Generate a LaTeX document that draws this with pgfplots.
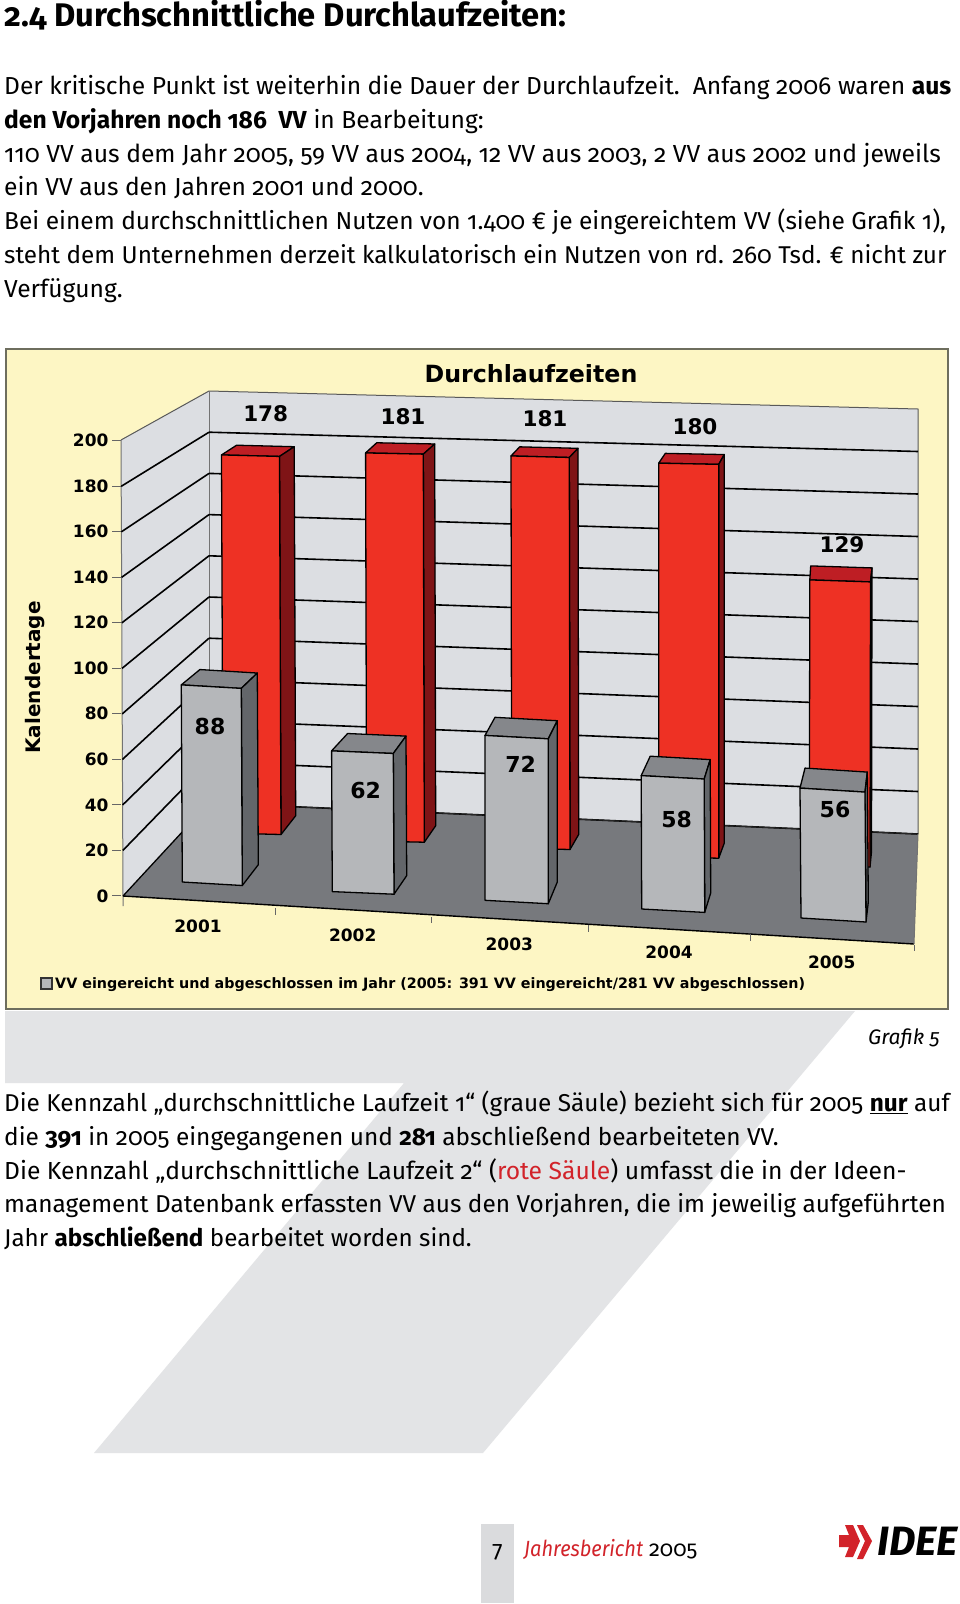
\documentclass[border=0pt]{standalone}
\usepackage{pgfplots}
\usepackage{pgfplotstable}
\usepackage{fontspec}
\pgfplotsset{compat=1.18}
\setmainfont[Numbers=OldStyle]{Fira Sans}
\newfontfamily\chartfont{DejaVu Sans}
\definecolor{paper}{HTML}{FDF6C4}
\definecolor{frameedge}{HTML}{6E6E5E}
\definecolor{wall}{HTML}{DCDEE2}
\definecolor{floorc}{HTML}{77797D}
\definecolor{redF}{HTML}{EE3124}
\definecolor{redT}{HTML}{BE1E24}
\definecolor{redS}{HTML}{7F1416}
\definecolor{grayF}{HTML}{B5B7BA}
\definecolor{grayT}{HTML}{85878B}
\definecolor{grayS}{HTML}{63666A}
\definecolor{deco}{HTML}{E3E4E6}
\definecolor{ftbox}{HTML}{DADBDD}
\definecolor{idee}{HTML}{D2232A}
% value, then where the bar stands on the page (front base, back base, height per day)
\pgfplotstableread{
v   blx   bly   brx   bry   k     rbx   rby   kb    bkw  lean lx   ly
178 223   833   281   834.5 2.124 295.7 815.7 2.073 57.6 1.5  265.7 413.7
181 366.6 841   424.3 842.2 2.144 435.7 825.7 2.109 58   1    403   417
181 511.7 848   570   849.5 2.166 578.7 834.4 2.133 58.3 0.7  545   419
180 658.7 857   718.7 858.2 2.188 724.3 843   2.158 59   0    695   426.7
129 809.3 865   870   867   2.21  871.5 851.7 2.2   61.3 -0.5 842   544.7
}\redbars
\pgfplotstableread{
v   blx   bly   brx   bry   k     rbx   rby   kb    bkw  lean lx    ly
88  182.3 882   242.3 885.5 2.24  258.3 864.7 2.178 57.4 1    210   726
62  332.3 891.6 394   894.2 2.27  406.7 875.6 2.25  58.4 0.7  365.7 790
72  485   900.3 548.3 903.7 2.29  557.3 882   2.24  62.3 0    520.7 764
58  641.7 909   704.7 912.4 2.30  710.7 893   2.30  60   0.5  676.7 819
56  801   918   866   922   2.32  868.3 902   2.32  62.3 1    835   809.6
}\graybars
\newcommand\getb[3]{\pgfplotstablegetelem{#2}{#3}\of#1\edef\tmpv{\pgfplotsretval}}
\newcommand\drawbar[4]{% table, row, face prefix
  \getb{#1}{#2}{v}\let\bv\tmpv
  \getb{#1}{#2}{blx}\let\blx\tmpv \getb{#1}{#2}{bly}\let\bly\tmpv
  \getb{#1}{#2}{brx}\let\brx\tmpv \getb{#1}{#2}{bry}\let\bry\tmpv
  \getb{#1}{#2}{k}\let\bk\tmpv
  \getb{#1}{#2}{rbx}\let\rbx\tmpv \getb{#1}{#2}{rby}\let\rby\tmpv
  \getb{#1}{#2}{kb}\let\kb\tmpv \getb{#1}{#2}{bkw}\let\bkw\tmpv
  \getb{#1}{#2}{lean}\let\lean\tmpv
  \pgfmathsetmacro\tlx{\blx-\lean}\pgfmathsetmacro\trx{\brx-\lean}
  \pgfmathsetmacro\tly{\bly-\bk*\bv}\pgfmathsetmacro\try{\bry-\bk*\bv}
  \pgfmathsetmacro\brtx{\rbx-\lean}\pgfmathsetmacro\brty{\rby-\kb*\bv}
  \pgfmathsetmacro\bltx{\brtx-\bkw}\pgfmathsetmacro\blty{\brty+\bly-\bry}
  \addplot[fill=#3T,draw=black,line width=1.3pt,line join=round] coordinates {(\tlx,\tly)(\trx,\try)(\brtx,\brty)(\bltx,\blty)} --cycle;
  \addplot[fill=#3S,draw=black,line width=1.3pt,line join=round] coordinates {(\trx,\try)(\brtx,\brty)(\rbx,\rby)(\brx,\bry)} --cycle;
  \addplot[fill=#3F,draw=black,line width=1.3pt,line join=round] coordinates {(\tlx,\tly)(\trx,\try)(\brx,\bry)(\blx,\bly)} --cycle;
}
\newcommand\pt[5][]{\node[anchor=base west,inner sep=0pt,#1] at (axis cs:#2,#3) {\fontsize{#4}{#4}\selectfont #5};}
\begin{document}
\begin{tikzpicture}[x=1pt,y=1pt]
\path[use as bounding box,fill=white] (0,0) rectangle (960,1604);
\begin{axis}[at={(0pt,0pt)},anchor=south west,scale only axis,width=960pt,height=1604pt,
  xmin=0,xmax=960,ymin=0,ymax=1604,y dir=reverse,hide axis,clip=false,axis on top=false,
  every axis plot/.append style={forget plot}]
% decoration band
\addplot[fill=deco,draw=none] coordinates {(5,1011)(855,1011)(483,1453)(94,1453)(404,1083)(5,1083)} --cycle;
\addplot[fill=ftbox,draw=none] coordinates {(481,1524)(514,1524)(514,1603)(481,1603)} --cycle;
% frame
\addplot[fill=paper,draw=frameedge,line width=1.6pt] coordinates {(6,349)(948,349)(948,1009)(6,1009)} --cycle;
% walls and floor
\addplot[fill=wall,draw=none] coordinates {(209,391)(918,409)(918,834)(209,803)} --cycle;
\addplot[fill=wall,draw=none] coordinates {(121,440)(209,391)(209,803)(123,896)} --cycle;
\addplot[fill=floorc,draw=none] coordinates {(123,896)(209,803)(918,834)(914,944)} --cycle;
\addplot[draw=black!65,line width=1pt] coordinates {(121,440)(209,391)(918,409)(918,834)};
\addplot[draw=black!55,line width=1pt] coordinates {(209,391)(209,803)};
\addplot[draw=black!55,line width=1pt] coordinates {(121,440)(123,896)(123,906)};
% grid lines
\pgfplotsinvokeforeach{0,20,...,200}{
  \pgfmathsetmacro\ya{803-2.06*#1}\pgfmathsetmacro\yb{834-2.125*#1}
  \pgfmathsetmacro\yc{896-2.276*#1}\pgfmathsetmacro\xc{123-0.01*#1}
  \ifnum#1=200 \else \addplot[black,line width=1.6pt] coordinates {(209,\ya)(918,\yb)}; \fi
  \ifnum#1=0 \else \ifnum#1=200 \else \addplot[black,line width=1.6pt] coordinates {(\xc,\yc)(209,\ya)}; \fi\fi
}
\addplot[black!85,line width=1pt] coordinates {(209,803)(918,834)};
\addplot[black,line width=1.3pt] coordinates {(123,896)(209,803)};
\addplot[black,line width=1.4pt] coordinates {(123,896)(914,944)};
\addplot[draw=black!55,line width=1pt] coordinates {(914,944)(918,834)};
\addplot[draw=black!60,line width=1pt] coordinates {(275,908)(275,915)};
\addplot[draw=black!60,line width=1pt] coordinates {(431,917)(431,923)};
\addplot[draw=black!60,line width=1pt] coordinates {(588,925)(588,932)};
\addplot[draw=black!60,line width=1pt] coordinates {(750,934)(750,941)};
\addplot[draw=black!60,line width=1pt] coordinates {(914,945)(914,951)};
% bars
\pgfplotsinvokeforeach{0,...,4}{\drawbar{\redbars}{#1}{red}{}}
\pgfplotsinvokeforeach{0,...,4}{\drawbar{\graybars}{#1}{gray}{}}
% value labels
\addplot[draw=none,nodes near coords,point meta=explicit symbolic,
  every node near coord/.style={anchor=center,inner sep=0pt,font=\chartfont\bfseries\fontsize{21.5}{21.5}\selectfont,text=black}]
  table[x=lx,y=ly,meta=v]{\redbars};
\addplot[draw=none,nodes near coords,point meta=explicit symbolic,
  every node near coord/.style={anchor=center,inner sep=0pt,font=\chartfont\bfseries\fontsize{22}{22}\selectfont,text=black}]
  table[x=lx,y=ly,meta=v]{\graybars};
% category labels
\addplot[draw=none,nodes near coords,point meta=explicit symbolic,
  every node near coord/.style={anchor=center,inner sep=0pt,font=\chartfont\bfseries\fontsize{17}{17}\selectfont,text=black}]
  table[x=lx,y=ly,meta=yr]{
  lx ly yr
  198 926 2001
  352.7 935 2002
  509.3 944 2003
  669 952 2004
  831.7 962.7 2005
};
% chart title and legend
\node[font=\chartfont\bfseries\fontsize{23.7}{23.7}\selectfont,inner sep=0pt] at (axis cs:531,373.6) {Durchlaufzeiten};
\addplot[fill=grayF,draw=black!80,line width=1.3pt] coordinates {(41,978)(52,978)(52,989)(41,989)} --cycle;
\node[font=\chartfont\bfseries\fontsize{14.3}{14.3}\selectfont,inner sep=0pt,anchor=west] at (axis cs:55,985) {VV eingereicht und abgeschlossen im Jahr (2005: 391 VV eingereicht/281 VV abgeschlossen)};
% page text
\pt{4}{26}{32.7}{\bfseries 2.4 Durchschnittliche Durchlaufzeiten:}
\pt{4}{94}{24.6}{Der kritische Punkt ist weiterhin die Dauer der Durchlaufzeit.\ \ Anfang 2006 waren \textbf{aus}}
\pt{4}{128}{24.6}{\textbf{den Vorjahren noch 186\ \ VV} in Bearbeitung:}
\pt{4}{162}{24.7}{110 VV aus dem Jahr 2005, 59 VV aus 2004, 12 VV aus 2003, 2 VV aus 2002 und jeweils}
\pt{4}{195}{24.6}{ein VV aus den Jahren 2001 und 2000.}
\pt{4}{229}{24.5}{Bei einem durchschnittlichen Nutzen von 1.400 € je eingereichtem VV (siehe Grafik 1),}
\pt{4}{263}{24.3}{steht dem Unternehmen derzeit kalkulatorisch ein Nutzen von rd. 260 Tsd. € nicht zur}
\pt{4}{297}{24.6}{Verfügung.}
\node[anchor=base east,inner sep=0pt,font=\fontsize{21}{21}\selectfont\itshape] at (axis cs:940,1044) {Grafik 5};
\pt{4}{1111}{24.35}{Die Kennzahl „durchschnittliche Laufzeit 1“ (graue Säule) bezieht sich für 2005 \underline{\textbf{nur}} auf}
\pt{4}{1145}{24.4}{die \textbf{391} in 2005 eingegangenen und \textbf{281} abschließend bearbeiteten VV.}
\pt{4}{1179}{24.65}{Die Kennzahl „durchschnittliche Laufzeit 2“ (\textcolor{idee}{rote Säule}) umfasst die in der Ideen-}
\pt{4}{1212}{24.4}{management Datenbank erfassten VV aus den Vorjahren, die im jeweilig aufgeführten}
\pt{4}{1246}{24.2}{Jahr \textbf{abschließend} bearbeitet worden sind.}
% footer
\node[anchor=base,inner sep=0pt,font=\fontsize{23}{23}\selectfont] at (axis cs:497.5,1557) {7};
\pt{524}{1556}{22}{\textcolor{idee}{\scalebox{0.91}[1]{\itshape Jahresbericht}} 2005}
\addplot[fill=idee,draw=none] coordinates {(839,1535)(849,1535)(845,1525)(853,1525)(860,1541)(853,1557)(845,1557)(849,1547)(839,1547)} --cycle;
\addplot[fill=idee,draw=none] coordinates {(857,1525)(863,1525)(872,1541)(863,1559)(857,1559)(865,1541)} --cycle;
\node[anchor=base west,inner sep=0pt,font=\fontsize{41}{41}\selectfont\bfseries\itshape] at (axis cs:877,1555) {IDEE};
\end{axis}
% value axis of the chart, on the front edge of the left wall
\begin{axis}[at={(121pt,708pt)},anchor=south west,scale only axis,width=1pt,height=455.5pt,
  ymin=0,ymax=200,xmin=0,xmax=1,axis x line=none,axis y line*=left,
  ytick={0,20,...,200},tick align=outside,major tick length=9pt,
  axis line style={draw=none},tick style={draw=black!60,line width=1pt},
  /pgf/number format/assume math mode=true,
  y tick label style={font=\chartfont\bfseries\fontsize{17}{17}\selectfont},
  ylabel={Kalendertage},
  ylabel style={at={(axis description cs:-86,0.48)},anchor=center,font=\chartfont\bfseries\fontsize{20}{20}\selectfont}]
\addplot[draw=none] coordinates {(0,0)(0,200)};
\end{axis}
\end{tikzpicture}
\end{document}
